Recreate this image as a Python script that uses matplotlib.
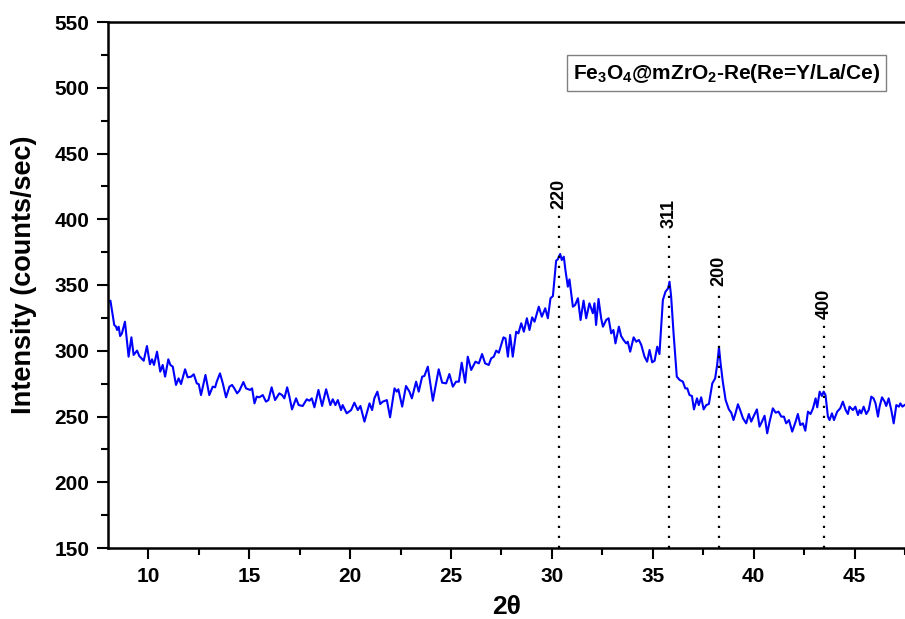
import matplotlib
matplotlib.use('Agg')
import matplotlib.pyplot as plt
from matplotlib.ticker import MultipleLocator

# Fuentes: Arial -> Liberation Sans, todo en negrita
plt.rcParams['font.family'] = ['Liberation Sans', 'DejaVu Sans']
plt.rcParams['font.weight'] = 'bold'
plt.rcParams['mathtext.fontset'] = 'custom'
plt.rcParams['mathtext.rm'] = 'Liberation Sans:bold'
plt.rcParams['mathtext.it'] = 'Liberation Sans:bold'
plt.rcParams['mathtext.bf'] = 'Liberation Sans:bold'
plt.rcParams['mathtext.default'] = 'rm'

# Difractograma (2theta, cuentas/seg)
dos_theta = [
    8.03, 8.12, 8.31, 8.40, 8.45, 8.53, 8.60, 8.69, 8.84, 9.02, 9.16, 9.27, 9.44, 9.55, 9.77, 9.93,
    10.08, 10.18, 10.28, 10.43, 10.59, 10.71, 10.83, 10.99, 11.09, 11.21, 11.37, 11.50, 11.62, 11.82,
    11.95, 12.12, 12.25, 12.40, 12.50, 12.61, 12.83, 13.02, 13.19, 13.31, 13.39, 13.55, 13.69, 13.85,
    14.02, 14.15, 14.26, 14.40, 14.51, 14.71, 14.84, 15.04, 15.14, 15.26, 15.37, 15.50, 15.67, 15.83,
    15.95, 16.11, 16.28, 16.49, 16.63, 16.74, 16.88, 16.99, 17.12, 17.32, 17.45,
    17.65, 17.85, 17.98, 18.10, 18.23, 18.43, 18.61, 18.81, 19.02, 19.14, 19.27, 19.39, 19.55, 19.63,
    19.83, 20.05, 20.21, 20.38, 20.51, 20.71, 20.96, 21.09, 21.20, 21.35, 21.49, 21.62, 21.82, 21.98,
    22.20, 22.31, 22.39, 22.58, 22.77, 22.94, 23.06, 23.27, 23.40, 23.57, 23.68, 23.85, 24.10, 24.39,
    24.56, 24.76, 24.92, 25.09, 25.25, 25.39, 25.53, 25.70, 25.83, 26.00, 26.21, 26.38, 26.54, 26.69,
    26.87, 26.99, 27.12, 27.24,
    27.37, 27.60, 27.70, 27.82, 27.93, 28.06, 28.23, 28.34, 28.48, 28.61, 28.76, 28.89, 29.02, 29.14,
    29.35, 29.50, 29.67, 29.80, 29.93, 30.05, 30.21, 30.29, 30.41, 30.49, 30.59, 30.67, 30.79, 30.87,
    31.04, 31.15, 31.29, 31.42, 31.57, 31.70, 31.86, 32.03, 32.11, 32.19, 32.31, 32.44, 32.53, 32.69,
    32.81, 32.94, 33.05, 33.15, 33.32, 33.43, 33.55, 33.68, 33.76, 33.88, 34.05, 34.18, 34.31, 34.43,
    34.59, 34.72, 34.84, 34.97, 35.09, 35.22, 35.33, 35.50, 35.63, 35.76, 35.83, 35.91, 36.03, 36.19,
    36.33,
    36.49, 36.61, 36.71, 36.82, 36.94, 37.04, 37.19, 37.28, 37.40, 37.52, 37.65, 37.78, 37.95, 38.09,
    38.19, 38.28, 38.36, 38.47, 38.61, 38.77, 38.89, 39.00, 39.10, 39.22, 39.33, 39.47, 39.63, 39.76,
    39.88, 39.99, 40.16, 40.29, 40.41, 40.54, 40.67, 40.79, 40.95, 41.09, 41.23, 41.37, 41.50, 41.61,
    41.75, 41.91, 42.08, 42.19, 42.31, 42.44, 42.56, 42.69, 42.82, 42.94, 43.07, 43.15, 43.27, 43.38,
    43.47, 43.56, 43.68, 43.76, 43.88, 43.98, 44.14, 44.29, 44.42, 44.56, 44.67, 44.75, 44.92, 45.04,
    45.17, 45.25, 45.33, 45.45, 45.58, 45.70, 45.83, 45.94, 46.04, 46.16, 46.24, 46.36, 46.49, 46.57,
    46.69, 46.82, 46.94, 47.07, 47.20, 47.27, 47.37, 47.48,
]
intensidad = [
    337.3, 338.1, 319.6, 318.3, 315.8, 318.3, 311.2, 313.2, 322.1, 295.5, 310.2, 296.8, 300.1, 296.0, 292.4, 303.6,
    289.7, 293.5, 289.2, 299.3, 284.1, 289.2, 280.3, 293.5, 289.2, 287.9, 274.0, 279.0, 274.7, 285.9,
    279.8, 280.3, 282.1, 275.2, 274.5, 266.3, 281.6, 266.3, 272.7, 272.2, 276.5, 282.8, 275.2, 264.6,
    272.7, 274.0, 271.4, 267.6, 269.6, 276.2, 271.4, 270.2, 271.4, 260.0, 265.1, 264.6, 266.3, 261.3,
    262.5, 272.2, 262.5, 267.6, 266.3, 263.8, 272.2, 265.1, 255.4, 263.8, 258.7,
    258.0, 263.1, 262.0, 263.8, 257.0, 270.2, 258.0, 270.7, 258.7, 263.1, 258.7, 262.5, 254.9, 258.7,
    252.4, 254.9, 260.5, 254.9, 258.0, 246.1, 260.0, 254.9, 263.8, 268.9, 259.5, 261.3, 262.5, 249.4,
    271.4, 268.9, 270.7, 257.5, 273.2, 268.9, 263.8, 276.5, 268.9, 280.3, 280.8, 287.9, 262.0, 285.9,
    275.7, 275.2, 282.3, 272.7, 276.5, 276.5, 290.9, 275.7, 295.5, 285.4, 291.7, 290.4, 297.5, 290.4,
    289.2, 294.2, 295.5, 300.1,
    298.5, 310.2, 309.4, 295.5, 312.0, 295.5, 314.5, 313.2, 320.9, 314.5, 324.7, 315.8, 325.4, 322.1,
    333.5, 325.9, 332.3, 324.7, 339.9, 341.6, 368.5, 369.5, 373.6, 369.0, 371.5, 361.4, 348.7, 354.3,
    333.5, 334.8, 339.9, 323.4, 338.1, 324.7, 336.1, 328.5, 336.1, 319.6, 339.4, 324.7, 318.3, 323.4,
    324.7, 313.2, 315.8, 305.6, 318.3, 311.2, 308.2, 305.6, 306.9, 299.3, 310.2, 306.9, 308.2, 304.4,
    295.5, 291.7, 300.6, 291.2, 292.4, 303.1, 297.5, 338.6, 344.9, 347.5, 352.5, 341.1, 313.2, 280.3,
    277.8,
    276.5, 271.4, 271.4, 266.3, 265.6, 255.4, 263.8, 258.7, 264.6, 255.4, 258.7, 259.5, 275.2, 279.0,
    289.2, 302.6, 290.4, 276.5, 262.5, 255.4, 252.9, 247.3, 252.4, 259.3, 254.9, 248.6, 244.8, 251.9,
    246.1, 249.9, 255.4, 242.3, 246.1, 250.6, 237.2, 246.1, 256.2, 252.9, 253.7, 249.9, 249.9, 244.8,
    247.3, 238.5, 246.1, 251.9, 243.5, 244.8, 239.2, 253.7, 251.9, 256.2, 263.8, 257.0, 268.9, 265.6,
    268.9, 266.3, 249.9, 247.3, 252.4, 247.3, 253.7, 256.2, 261.3, 254.9, 251.9, 257.5, 254.9, 257.5,
    251.1, 254.9, 252.4, 257.5, 251.9, 254.9, 265.1, 263.8, 260.0, 249.9, 257.5, 264.6, 261.3, 258.0,
    263.8, 254.9, 244.8, 258.7, 257.5, 260.0, 257.5, 258.7,
]

# Picos indexados: posicion, hkl y altura de la linea punteada
picos = [30.35, 35.8, 38.3, 43.5]
picos_hkl = ['220', '311', '200', '400']
picos_altura = [405, 390, 346, 321]

fig = plt.figure(figsize=(9.05, 6.19), dpi=100)
ax = fig.add_axes([108 / 905, 1 - 548 / 619, 797 / 905, 526 / 619])

ax.plot(dos_theta, intensidad, color='#0000ff', lw=1.5)

ax.vlines(picos, 150, picos_altura, colors='black', linestyles=(0, (1, 3.5)), lw=1.6)
for x, hkl, h in zip(picos, picos_hkl, picos_altura):
    ax.text(x, h + 3, hkl, rotation=90, ha='center', va='bottom', fontsize=13, fontweight='bold')

ax.set_xlim(8, 47.5)
ax.set_ylim(150, 550)
ax.xaxis.set_major_locator(MultipleLocator(5))
ax.xaxis.set_minor_locator(MultipleLocator(2.5))
ax.yaxis.set_major_locator(MultipleLocator(50))
ax.yaxis.set_minor_locator(MultipleLocator(25))
ax.tick_params(which='major', direction='out', length=8, width=1.5, labelsize=15, pad=5.5)
ax.tick_params(which='minor', direction='out', length=5, width=1.5)
ax.spines['right'].set_visible(False)
for lado in ['left', 'top', 'bottom']:
    ax.spines[lado].set_linewidth(1.8)

ax.set_xlabel('2θ', fontsize=19, fontweight='bold', labelpad=7)
ax.set_ylabel('Intensity (counts/sec)', fontsize=19.5, fontweight='bold')
ax.yaxis.set_label_coords(-0.089, 0.52)

# Leyenda con el nombre de la muestra
ax.text(0.776, 0.903, r'Fe$_3$O$_4$@mZrO$_2$-Re(Re=Y/La/Ce)', transform=ax.transAxes,
        ha='center', va='center', fontsize=15, fontweight='bold',
        bbox=dict(boxstyle='square,pad=0.3', fc='white', ec='#808080', lw=1))

fig.savefig('out.png', dpi=100)
